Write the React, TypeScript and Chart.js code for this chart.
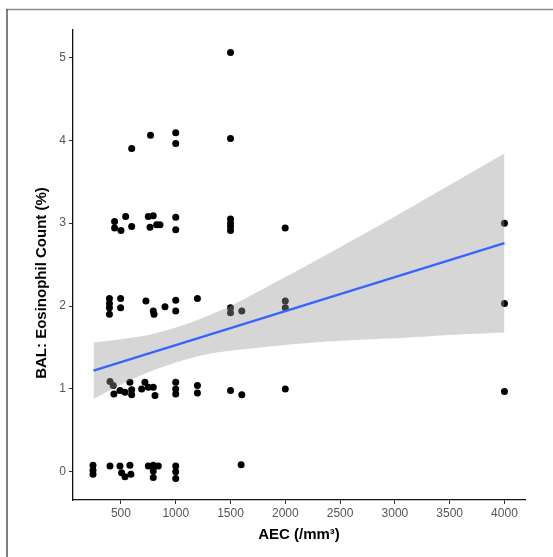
import { useEffect, useRef } from "react";
import { Chart, registerables } from "chart.js";
Chart.register(...registerables);

// Scatter observations (AEC, BAL eosinophil %), jittered as in the figure
const pointX = [
  598, 770, 1000, 1000, 1500, 1500,
  442, 442, 500, 543, 598, 750, 795, 765, 826, 856, 1000, 1000, 1500, 1500, 1500, 1500, 1999, 4000,
  395, 395, 395, 395, 497, 497, 728, 795, 802, 902, 1000, 1000, 1198, 1500, 1500, 1603, 2000, 2000, 4000,
  400, 430, 436, 491, 537, 582, 598, 598, 689, 719, 750, 795, 811, 1000, 1000, 1000, 1198, 1198, 1500, 1603, 2000, 4000,
  245, 245, 245, 400, 491, 506, 537, 582, 591, 750, 795, 795, 795, 841, 1000, 1000, 1000, 1597,
];
const pointY = [
  3.9, 4.06, 4.09, 3.96, 5.06, 4.02,
  3.02, 2.94, 2.91, 3.08, 2.96, 3.08, 3.09, 2.95, 2.98, 2.98, 3.07, 2.92, 3.05, 3.0, 2.96, 2.91, 2.94, 3.0,
  2.09, 2.03, 1.98, 1.9, 2.09, 1.98, 2.06, 1.94, 1.9, 1.99, 2.07, 1.94, 2.09, 1.98, 1.92, 1.94, 2.06, 1.98, 2.03,
  1.09, 1.04, 0.94, 0.98, 0.96, 1.08, 0.99, 0.93, 1.0, 1.08, 1.02, 1.02, 0.92, 1.08, 1.0, 0.94, 1.04, 0.95, 0.98, 0.93, 1.0, 0.97,
  0.08, 0.02, -0.03, 0.07, 0.07, -0.01, -0.06, 0.08, -0.03, 0.07, 0.08, 0.01, -0.07, 0.07, 0.07, 0.0, -0.08, 0.085,
];

// Fitted regression line
const fitX = [250, 4000];
const fitY = [1.22, 2.76];

// Confidence band
const bandX = [250, 500, 750, 1000, 1250, 1500, 2000, 2500, 3000, 3500, 4000];
const bandLower = [0.88, 1.05, 1.2, 1.32, 1.41, 1.46, 1.53, 1.58, 1.61, 1.65, 1.68];
const bandUpper = [1.56, 1.6, 1.65, 1.74, 1.86, 2.0, 2.35, 2.71, 3.08, 3.46, 3.84];

const xTicks = [500, 1000, 1500, 2000, 2500, 3000, 3500, 4000];
const yTicks = [0, 1, 2, 3, 4, 5];
const xTitle = "AEC (/mm³)";
const yTitle = "BAL: Eosinophil Count (%)";

const FONT = "'Liberation Sans', Arial, Helvetica, sans-serif";

export default function App() {
  const ref = useRef<HTMLCanvasElement | null>(null);

  useEffect(() => {
    const canvas = ref.current;
    if (!canvas) return;

    const decor = {
      id: "decor",
      afterDraw(chart: any) {
        const ctx = chart.ctx;
        const ca = chart.chartArea;
        ctx.save();
        // frame
        ctx.strokeStyle = "#8c8c8c";
        ctx.lineWidth = 1.5;
        ctx.beginPath();
        ctx.moveTo(6, 9.5);
        ctx.lineTo(553, 9.5);
        ctx.stroke();
        ctx.strokeStyle = "#555";
        ctx.beginPath();
        ctx.moveTo(7, 9);
        ctx.lineTo(7, 557);
        ctx.stroke();
        // titles
        ctx.fillStyle = "#000";
        ctx.font = `bold 15px ${FONT}`;
        ctx.textAlign = "center";
        ctx.textBaseline = "middle";
        ctx.fillText(xTitle, (ca.left + ca.right) / 2, 535);
        ctx.translate(42, 283);
        ctx.rotate(-Math.PI / 2);
        ctx.fillText(yTitle, 0, 0);
        ctx.restore();
      },
    };

    const chart = new Chart(canvas, {
      type: "scatter",
      data: {
        datasets: [
          {
            type: "scatter",
            data: pointX.map((x, i) => ({ x, y: pointY[i] })),
            backgroundColor: "#000",
            borderWidth: 0,
            pointRadius: 3.5,
            order: 3,
          } as any,
          {
            type: "line",
            data: bandX.map((x, i) => ({ x, y: bandLower[i] })),
            borderWidth: 0,
            borderColor: "transparent",
            pointRadius: 0,
            fill: false,
            tension: 0.3,
            order: 2,
          },
          {
            type: "line",
            data: bandX.map((x, i) => ({ x, y: bandUpper[i] })),
            borderWidth: 0,
            borderColor: "transparent",
            backgroundColor: "rgba(153,153,153,0.4)",
            pointRadius: 0,
            fill: 1,
            tension: 0.3,
            order: 2,
          },
          {
            type: "line",
            data: fitX.map((x, i) => ({ x, y: fitY[i] })),
            borderColor: "#3366FF",
            borderWidth: 2.3,
            pointRadius: 0,
            fill: false,
            order: 1,
          },
        ],
      },
      options: {
        animation: false,
        responsive: false,
        layout: { padding: { top: 30, right: 28, left: 0, bottom: 0 } },
        plugins: {
          legend: { display: false },
          tooltip: { enabled: false },
        },
        scales: {
          x: {
            type: "linear",
            min: 62.5,
            max: 4187.5,
            afterBuildTicks: (s: any) => {
              s.ticks = xTicks.map((v) => ({ value: v }));
            },
            afterFit: (s: any) => {
              s.height = 57;
            },
            grid: { drawOnChartArea: false, drawTicks: true, tickLength: 4, color: "#333", lineWidth: 1 },
            border: { display: true, color: "#111", width: 1.3 },
            ticks: {
              color: "#555",
              font: { family: FONT, size: 12 },
              padding: 2,
              maxRotation: 0,
              autoSkip: false,
              callback: (v: any) => String(v),
            },
          },
          y: {
            type: "linear",
            min: -0.34,
            max: 5.33,
            afterBuildTicks: (s: any) => {
              s.ticks = yTicks.map((v) => ({ value: v }));
            },
            afterFit: (s: any) => {
              s.width = 73;
            },
            grid: { drawOnChartArea: false, drawTicks: true, tickLength: 4, color: "#333", lineWidth: 1 },
            border: { display: true, color: "#111", width: 1.3 },
            ticks: {
              color: "#555",
              font: { family: FONT, size: 12 },
              padding: 3,
              autoSkip: false,
              callback: (v: any) => String(v),
            },
          },
        },
      },
      plugins: [decor],
    });
    return () => chart.destroy();
  }, []);

  return (
    <div style={{ position: "fixed", left: 0, top: 0, width: 553, height: 557, background: "#fff" }}>
      <canvas ref={ref} width={553} height={557} style={{ display: "block" }} />
    </div>
  );
}
